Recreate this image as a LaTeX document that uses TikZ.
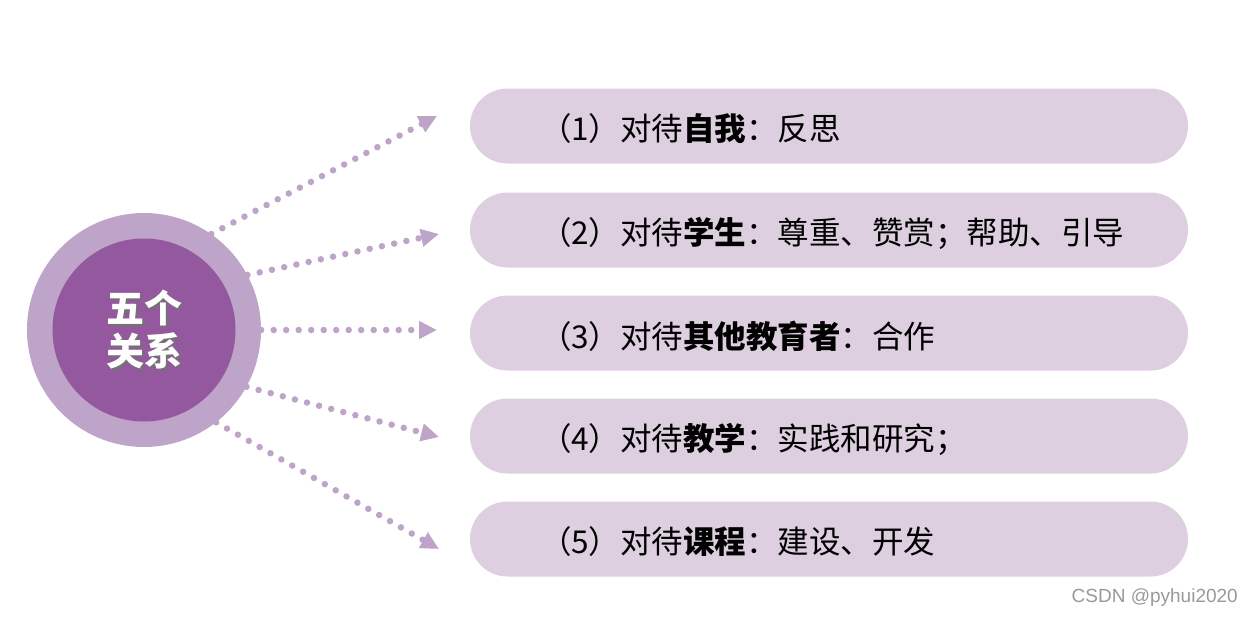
\documentclass[tikz,border=0pt]{standalone}
\usepackage{fontspec}
\setmainfont{Noto Sans CJK SC}
\newfontfamily\wmfont{Liberation Sans}
\usetikzlibrary{arrows.meta, positioning}
\definecolor{ringpurple}{HTML}{BDA4C8}
\definecolor{corepurple}{HTML}{93589E}
\definecolor{pillpurple}{HTML}{DDCFE0}
\tikzset{pill/.style={fill=pillpurple, minimum width=718pt, minimum height=75pt, rounded corners=37.5pt, inner sep=0pt}}
\tikzset{pilltext/.style={anchor=west, inner sep=0pt, font=\fontsize{31.5}{36}\selectfont}}
\tikzset{dotarrow/.style={ringpurple, line width=6.5pt, line cap=round, dash pattern=on 0pt off 12.5pt, -{Triangle[length=18pt,width=17pt]}}}

\begin{document}
\begin{tikzpicture}[x=1pt,y=-1pt]
\useasboundingbox (0,0) rectangle (1253,619);
% centre circle
\node[circle, fill=ringpurple, minimum size=234pt, inner sep=0pt] (ring) at (144,330) {};
\node[circle, fill=corepurple, minimum size=183pt, inner sep=0pt] (core) at (ring) {};
\node[align=center, text=black!55, font=\fontsize{38}{43}\selectfont\bfseries] (titleshadow) at ([shift={(2,2)}]core) {五个\\关系};
\node[align=center, text=white, font=\fontsize{38}{43}\selectfont\bfseries] (title) at (core) {五个\\关系};
% the five bars
\node[pill] (p1) at (829,126) {};
\node[pill] (p2) at (829,230) {};
\node[pill] (p3) at (829,333) {};
\node[pill] (p4) at (829,436) {};
\node[pill] (p5) at (829,539) {};
\node[pilltext, right=70pt of p1.west, yshift=-3pt] (l1) {（1）对待\textbf{自我}：反思};
\node[pilltext, right=70pt of p2.west, yshift=-3pt] (l2) {（2）对待\textbf{学生}：尊重、赞赏；帮助、引导};
\node[pilltext, right=70pt of p3.west, yshift=-3pt] (l3) {（3）对待\textbf{其他教育者}：合作};
\node[pilltext, right=70pt of p4.west, yshift=-3pt] (l4) {（4）对待\textbf{教学}：实践和研究；};
\node[pilltext, right=70pt of p5.west, yshift=-3pt] (l5) {（5）对待\textbf{课程}：建设、开发};
% dotted arrows
\coordinate (t1) at (437,116);
\coordinate (t2) at (439,234);
\coordinate (t3) at (437,330);
\coordinate (t4) at (439,437);
\coordinate (t5) at (439,549);
\draw[dotarrow] (ring.55) -- (t1);
\draw[dotarrow] (ring.28) -- (t2);
\draw[dotarrow] (ring.0) -- (t3);
\draw[dotarrow] (ring.-29) -- (t4);
\draw[dotarrow] (ring.-52) -- (t5);
% watermark
\node[anchor=east, inner sep=0pt, text=black!40, font=\wmfont\fontsize{19}{21}\selectfont] (mark) at (1238,598) {CSDN @pyhui2020};
\end{tikzpicture}
\end{document}
